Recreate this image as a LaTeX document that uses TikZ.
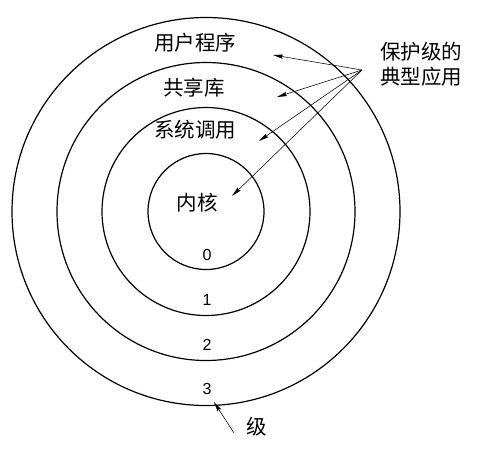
\documentclass[tikz,border=0pt]{standalone}
\usepackage{fontspec}
\newfontfamily\cjk{Noto Sans CJK SC}
\newfontfamily\numfont{Liberation Sans}
\usetikzlibrary{arrows.meta}
\begin{document}
\begin{tikzpicture}[x=1pt,y=-1pt,
  ring/.style={line width=1.2pt},
  lab/.style={font=\cjk\fontsize{20.5}{23}\selectfont, inner sep=0pt},
  lvl/.style={font=\numfont\fontsize{16}{18}\selectfont, inner sep=0pt},
  ptr/.style={line width=0.55pt, -{Stealth[length=10pt,width=4.2pt,inset=1.5pt]}}]
\useasboundingbox (0,0) rectangle (479,459);
\coordinate (c) at (206,211.5);
\draw[ring] (c) circle[radius=194];
\draw[ring] (c) circle[radius=149];
\draw[ring] (c) circle[radius=104];
\draw[ring] (c) circle[radius=58];
\node[lab] (user) at (195,43) {用户程序};
\node[lab] (lib) at (194,88) {共享库};
\node[lab] (sys) at (195,130) {系统调用};
\node[lab] (kern) at (197,203) {内核};
\node[lab, align=center] (typ) at (421,64) {保护级的\\[2pt]典型应用};
\node[lvl] (l0) at (207,255) {0};
\node[lvl] (l1) at (207,300) {1};
\node[lvl] (l2) at (207,345) {2};
\node[lvl] (l3) at (207,389) {3};
\node[lab] (lev) at (257,427) {级};
\coordinate (src) at (362,70);
\coordinate (t0) at (273,55);
\coordinate (t1) at (277,97);
\coordinate (t2) at (259,141);
\coordinate (t3) at (232,196);
\coordinate (lsrc) at (234,433);
\coordinate (lt) at (214,402);
\draw[ptr] (src) -- (t0);
\draw[ptr] (src) -- (t1);
\draw[ptr] (src) -- (t2);
\draw[ptr] (src) -- (t3);
\draw[ptr] (lsrc) -- (lt);
\end{tikzpicture}
\end{document}
